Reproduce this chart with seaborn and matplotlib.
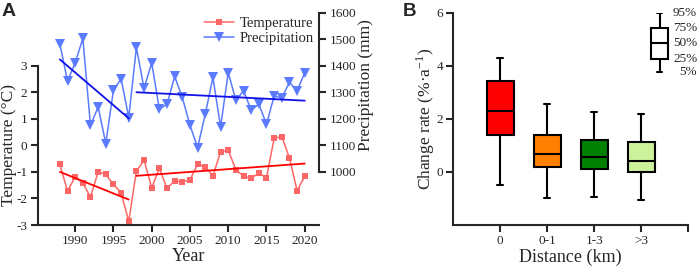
import matplotlib
matplotlib.use("Agg")
import matplotlib.pyplot as plt
import numpy as np
import pandas as pd
import seaborn as sns

# ---- panel A data ----
years = list(range(1988, 2021))
temperature = [-0.72, -1.72, -1.19, -1.42, -1.95, -1.00, -1.09, -1.47, -1.78, -2.86,
               -0.97, -0.56, -1.59, -0.87, -1.62, -1.34, -1.38, -1.29, -0.72, -0.81,
               -1.15, -0.24, -0.19, -0.91, -1.17, -1.24, -1.04, -1.22, 0.27, 0.33,
               -0.48, -1.70, -1.17]
precipitation = [1482, 1343, 1411, 1503, 1175, 1245, 1107, 1308, 1351, 1205,
                 1469, 1315, 1411, 1237, 1255, 1360, 1281, 1176, 1092, 1218,
                 1356, 1170, 1374, 1270, 1306, 1233, 1255, 1180, 1286, 1279,
                 1338, 1306, 1374]
break_year = 1998  # trend lines are fitted separately before / after

# ---- panel B data: 5%, 25%, 50%, 75%, 95% per distance class ----
distance = ["0", "0-1", "1-3", ">3"]
p5 = [-0.48, -1.00, -0.94, -1.07]
q1 = [1.38, 0.19, 0.11, 0.00]
med = [2.30, 0.67, 0.57, 0.40]
q3 = [3.43, 1.38, 1.20, 1.11]
p95 = [4.30, 2.57, 2.26, 2.20]
box_colors = ["#ff0000", "#ff8000", "#008000", "#ccf29c"]

key_values = [3.75, 4.27, 4.85, 5.41, 6.00]
key_labels = ["5%", "25%", "50%", "75%", "95%"]

sns.set_style("ticks")
plt.rcParams["font.family"] = ["Liberation Serif", "DejaVu Serif"]
plt.rcParams["mathtext.fontset"] = "stix"
plt.rcParams["axes.unicode_minus"] = False

LW = 1.5
fig = plt.figure(figsize=(6.99, 2.67), dpi=100)
axA = fig.add_axes([0.0539, 0.1573, 0.4029, 0.7951])
axB = fig.add_axes([0.6485, 0.1573, 0.3362, 0.7951])

# ================= panel A =================
df = pd.DataFrame({"year": years, "temp": temperature, "prec": precipitation})
sns.lineplot(data=df, x="year", y="temp", ax=axA, color="#ff6666", marker="s",
             markersize=4.8, markeredgewidth=0, linewidth=1.1, label="Temperature")
axP = axA.twinx()
sns.lineplot(data=df, x="year", y="prec", ax=axP, color="#5b7bff", marker="v",
             markersize=6.5, markeredgewidth=0, linewidth=1.1, label="Precipitation")

for col, ax, c in [("temp", axA, "#ff0000"), ("prec", axP, "#1010e8")]:
    for part in (df[df.year < break_year], df[df.year >= break_year]):
        k, b = np.polyfit(part.year, part[col], 1)
        ax.plot(part.year, k * part.year + b, color=c, linewidth=1.3)

axA.set_xlim(1985.1, 2021.9)
axA.set_ylim(-3, 5)
axP.set_ylim(800, 1600)
axA.set_xticks(range(1990, 2021, 5))
axA.set_yticks(range(-3, 4))
axP.set_yticks(range(1000, 1601, 100))

axA.spines["top"].set_visible(False)
axA.spines["right"].set_visible(False)
axA.spines["left"].set_bounds(-3, 3)
for s in ("top", "left", "bottom"):
    axP.spines[s].set_visible(False)
axP.spines["right"].set_bounds(1000, 1600)
for ax in (axA, axP):
    for s in ax.spines.values():
        s.set_linewidth(LW)
    ax.tick_params(direction="out", length=5, width=LW, labelsize=9.5, pad=2.5)
axA.tick_params(axis="x", pad=2)

axA.set_xlabel("Year", fontsize=13)
axA.set_ylabel("Temperature (°C)", fontsize=12.5)
axP.set_ylabel("Precipitation (mm)", fontsize=12.5)
axA.xaxis.set_label_coords(0.534, -0.11)
axA.yaxis.set_label_coords(-0.072, 0.377)
axP.yaxis.set_label_coords(1.137, 0.66)

if axA.get_legend():
    axA.get_legend().remove()
h1, l1 = axA.get_legend_handles_labels()
h2, l2 = axP.get_legend_handles_labels()
axP.legend(h1 + h2, l1 + l2, loc="upper right", bbox_to_anchor=(1.0, 1.01),
           frameon=False, fontsize=10.5, handlelength=2.1, handletextpad=0.35,
           labelspacing=0.15, borderaxespad=0)

# ================= panel B =================
# boxes drawn from the five summary values: with whis=(0, 100) the whiskers end
# at the 5% / 95% values and the quartiles fall exactly on q1 / med / q3
rows = []
for i, d in enumerate(distance):
    for v in (p5[i], q1[i], med[i], q3[i], p95[i]):
        rows.append({"distance": d, "rate": v})
dfb = pd.DataFrame(rows)
sns.boxplot(data=dfb, x="distance", y="rate", hue="distance", palette=box_colors,
            order=distance, hue_order=distance, whis=(0, 100), width=0.57,
            linewidth=LW, linecolor="black", fliersize=0, legend=False, ax=axB,
            saturation=1)
# narrower whisker caps, as in the original
for line in axB.lines:
    xd, yd = np.asarray(line.get_xdata(), float), np.asarray(line.get_ydata(), float)
    if len(xd) == 2 and yd[0] == yd[1] and 0 < xd[1] - xd[0] < 0.5:
        mid = xd.mean()
        line.set_xdata([mid - 0.06, mid + 0.06])

# key box (white) in the upper right
key_stats = [{"whislo": key_values[0], "q1": key_values[1], "med": key_values[2],
              "q3": key_values[3], "whishi": key_values[4], "fliers": []}]
axB.bxp(key_stats, positions=[3.39], widths=[0.375], showfliers=False,
        patch_artist=True, manage_ticks=False,
        boxprops=dict(facecolor="white", edgecolor="black", linewidth=LW),
        medianprops=dict(color="black", linewidth=LW),
        whiskerprops=dict(color="black", linewidth=LW),
        capprops=dict(color="black", linewidth=LW), capwidths=[0.12])
for v, t in zip(key_values, key_labels):
    axB.text(4.19, v, t, ha="right", va="center", fontsize=9.5, clip_on=False)

axB.set_xlim(-1, 4)
axB.set_ylim(-2, 6)
axB.set_yticks([0, 2, 4, 6])
axB.set_xticks([0, 1, 2, 3, 4])
axB.set_xticklabels(distance + [""])
axB.spines["top"].set_visible(False)
axB.spines["right"].set_visible(False)
for s in axB.spines.values():
    s.set_linewidth(LW)
axB.tick_params(direction="out", length=5, width=LW, labelsize=9.5, pad=2.5)
axB.tick_params(axis="x", pad=2)
axB.set_xlabel("Distance (km)", fontsize=13)
axB.set_ylabel(r"Change rate (%·a$^{\mathregular{-1}}$)", fontsize=12.5)
axB.xaxis.set_label_coords(0.5, -0.11)
axB.yaxis.set_label_coords(-0.07, 0.5)

fig.text(0.002, 0.99, "A", fontsize=14, fontweight="bold",
         family="Liberation Sans", va="top")
fig.text(0.576, 0.99, "B", fontsize=13.5, fontweight="bold",
         family="Liberation Sans", va="top")

fig.savefig("out.png", dpi=100)
